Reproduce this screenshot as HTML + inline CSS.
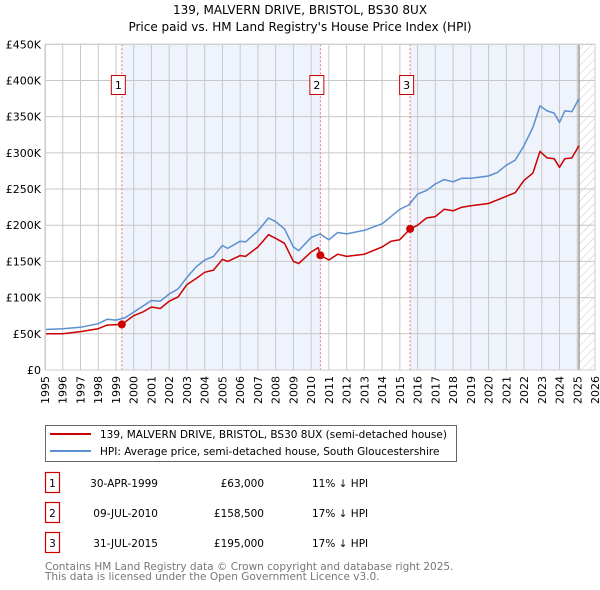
<!DOCTYPE html>
<html><head><meta charset="utf-8"><style>
body{margin:0;background:#fff;font-family:"DejaVu Sans","Liberation Sans",sans-serif;}
svg{display:block;font-family:"DejaVu Sans","Liberation Sans",sans-serif}
</style></head><body>
<svg id="c" width="600" height="590" xmlns="http://www.w3.org/2000/svg">
<defs><pattern id="hatch" width="6" height="6" patternUnits="userSpaceOnUse" patternTransform="rotate(45)"><line x1="0" y1="0" x2="0" y2="6" stroke="#bbb" stroke-width="0.8"/></pattern></defs>
<text x="300" y="14" text-anchor="middle" font-size="12" fill="#000">139, MALVERN DRIVE, BRISTOL, BS30 8UX</text>
<text x="300" y="31" text-anchor="middle" font-size="12" fill="#000">Price paid vs. HM Land Registry's House Price Index (HPI)</text>
<g id="plot"></g>
<g>
<rect x="45.5" y="425.5" width="411" height="36" fill="#fff" stroke="#666"/>
<line x1="50" y1="434" x2="91" y2="434" stroke="#cc0000" stroke-width="2"/>
<text x="100" y="438" font-size="10.5">139, MALVERN DRIVE, BRISTOL, BS30 8UX (semi-detached house)</text>
<line x1="50" y1="451" x2="91" y2="451" stroke="#5b8fd0" stroke-width="2"/>
<text x="100" y="455" font-size="10.5">HPI: Average price, semi-detached house, South Gloucestershire</text>
</g>
<g>
<rect x="45.5" y="472.5" width="14" height="20" fill="none" stroke="#cc0000" stroke-width="1.2"/>
<rect x="45.5" y="502.5" width="14" height="20" fill="none" stroke="#cc0000" stroke-width="1.2"/>
<rect x="45.5" y="532.5" width="14" height="20" fill="none" stroke="#cc0000" stroke-width="1.2"/>
<g id="table" font-size="10.5"></g>
</g>
<text x="45" y="570" font-size="10.5" fill="#777">Contains HM Land Registry data © Crown copyright and database right 2025.</text>
<text x="45" y="580" font-size="10.5" fill="#777">This data is licensed under the Open Government Licence v3.0.</text>
</svg>
<script>
const yTicks=[0,50000,100000,150000,200000,250000,300000,350000,400000,450000];
const yLabels=["£0","£50K","£100K","£150K","£200K","£250K","£300K","£350K","£400K","£450K"];
const xYears=[1995,1996,1997,1998,1999,2000,2001,2002,2003,2004,2005,2006,2007,2008,2009,2010,2011,2012,2013,2014,2015,2016,2017,2018,2019,2020,2021,2022,2023,2024,2025,2026];
const hpiT=[1995,1996,1997,1998,1998.5,1999,1999.5,2000,2000.5,2001,2001.5,2002,2002.5,2003,2003.5,2004,2004.5,2005,2005.3,2006,2006.3,2007,2007.6,2008,2008.5,2009,2009.3,2010,2010.5,2011,2011.5,2012,2013,2014,2014.5,2015,2015.5,2016,2016.5,2017,2017.5,2018,2018.5,2019,2020,2020.5,2021,2021.5,2022,2022.5,2022.9,2023.3,2023.7,2024.0,2024.3,2024.7,2025.1];
const hpiV=[56,57,59,64,70,69,72,80,88,96,95,105,112,128,142,152,157,172,168,178,177,192,210,205,195,170,165,183,188,180,190,188,193,202,212,222,228,243,248,257,263,260,265,265,268,273,283,290,310,335,365,358,355,342,358,357,375];
const ppT=[1995,1996,1997,1998,1998.5,1999.33,2000,2000.5,2001,2001.5,2002,2002.5,2003,2003.5,2004,2004.5,2005,2005.3,2006,2006.3,2007,2007.6,2008,2008.5,2009,2009.3,2010,2010.4,2010.52,2011,2011.5,2012,2013,2014,2014.5,2015,2015.58,2016,2016.5,2017,2017.5,2018,2018.5,2019,2020,2020.5,2021,2021.5,2022,2022.5,2022.9,2023.3,2023.7,2024.0,2024.3,2024.7,2025.1];
const ppV=[50,50,53,57,62,63,75,80,87,85,95,101,118,126,135,138,153,150,158,157,170,187,182,175,150,147,163,169,158.5,152,160,157,160,170,178,180,195,200,210,212,222,220,225,227,230,235,240,245,262,272,302,293,292,280,292,293,310];
const saleT=[1999.33,2010.52,2015.58];
const saleV=[63000,158500,195000];
const saleLabels=["1","2","3"];
const saleDates=["30-APR-1999","09-JUL-2010","31-JUL-2015"];
const salePrices=["£63,000","£158,500","£195,000"];
const saleDiffs=["11% ↓ HPI","17% ↓ HPI","17% ↓ HPI"];
const dataEnd=2025.1;

const X0=45,X1=595,Y0=370,Y1=44.3;
const xs=t=>X0+(t-1995)/(2026-1995)*(X1-X0);
const ys=v=>Y0-v/450000*(Y0-Y1);
const NS="http://www.w3.org/2000/svg";
const plot=document.getElementById('plot');
function mk(tag,attrs,parent){const e=document.createElementNS(NS,tag);for(const k in attrs)e.setAttribute(k,attrs[k]);(parent||plot).appendChild(e);return e;}

let bg=mk('rect',{x:X0,y:Y1,width:X1-X0,height:Y0-Y1,fill:'#fff'});


let s1=mk('rect',{x:xs(saleT[0]),y:Y1,width:xs(saleT[1])-xs(saleT[0]),height:Y0-Y1,fill:'#eef3fc'});


let s2=mk('rect',{x:xs(saleT[2]),y:Y1,width:xs(dataEnd)-xs(saleT[2]),height:Y0-Y1,fill:'#eef3fc'});


let hz=mk('rect',{x:xs(dataEnd),y:Y1,width:X1-xs(dataEnd),height:Y0-Y1,fill:'url(#hatch)'});



xYears.forEach(y=>{
 let l=mk('line',{x1:xs(y),x2:xs(y),y1:Y1,y2:Y0,stroke:'#c8c8c8','stroke-width':1});
 
 
 let t=mk('text',{x:0,y:0,'font-size':11,'text-anchor':'end',transform:`translate(${xs(y)+4},${Y0+6}) rotate(-90)`});
 t.textContent=y;
 
 
});
yTicks.forEach((v,i)=>{
 let l=mk('line',{x1:X0,x2:X1,y1:ys(v),y2:ys(v),stroke:'#c8c8c8','stroke-width':1});
 
 
 let t=mk('text',{x:X0-4,y:ys(v)+4,'font-size':11,'text-anchor':'end'});
 t.textContent=yLabels[i];
 
 
});
let el=mk('line',{x1:xs(dataEnd),x2:xs(dataEnd),y1:Y1,y2:Y0,stroke:'#888','stroke-width':1.2});



saleT.forEach((t,i)=>{
 let l=mk('line',{x1:xs(t),x2:xs(t),y1:Y1,y2:Y0,stroke:'#f07070','stroke-width':1,'stroke-dasharray':'2,2'});
 
 
});

function path(T,V,color,name){
 let d=T.map((t,i)=>(i?'L':'M')+xs(t).toFixed(1)+','+ys(V[i]*1000).toFixed(1)).join('');
 let p=mk('path',{d:d,fill:'none',stroke:color,'stroke-width':1.5,'stroke-linejoin':'round'});
 
 
}
path(hpiT,hpiV,'#5b8fd0','hpi-line');
path(ppT,ppV,'#cc0000','price-paid-line');

saleT.forEach((t,i)=>{
 let c=mk('circle',{cx:xs(t),cy:ys(saleV[i]),r:4,fill:'#cc0000'});
 
 
 let g=mk('g',{});
 
 
 mk('rect',{x:xs(t)-10.5,y:75.5,width:14,height:19,fill:'#fff',stroke:'#cc0000'},g);
 let tx=mk('text',{x:xs(t)-3.5,y:89,'font-size':11,'text-anchor':'middle'},g);
 tx.textContent=saleLabels[i];
});
let bd=mk('rect',{x:X0+0.5,y:Y1,width:X1-X0-0.5,height:Y0-Y1,fill:'none',stroke:'#ccc'});



const tb=document.getElementById('table');
saleLabels.forEach((s,i)=>{
 const cy=483+i*30;
 let r=mk('g',{},tb);
 
 
 let a=mk('text',{x:52.5,y:cy+4,'text-anchor':'middle'},r);a.textContent=s;
 let b=mk('text',{x:158,y:cy+4,'text-anchor':'end'},r);b.textContent=saleDates[i];
 let c=mk('text',{x:264,y:cy+4,'text-anchor':'end'},r);c.textContent=salePrices[i];
 let d=mk('text',{x:312,y:cy+4},r);d.textContent=saleDiffs[i];
});
</script>
</body></html>
